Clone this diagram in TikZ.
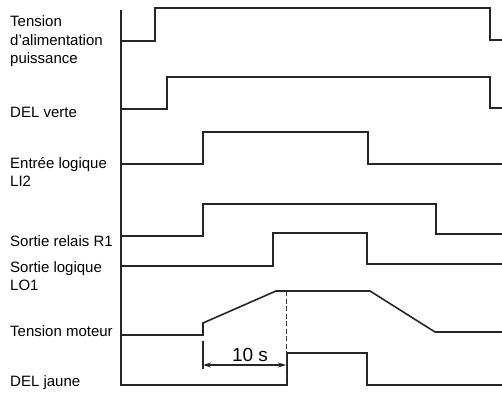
\documentclass[tikz,border=0pt]{standalone}
\usepackage{fontspec}
\setmainfont{Liberation Sans}
\usetikzlibrary{arrows.meta}
\begin{document}
\begin{tikzpicture}[x=1pt,y=-1pt,
  lab/.style={anchor=base west, inner sep=0pt, font=\fontsize{15}{17}\selectfont},
  sig/.style={line width=1.6pt, draw=black!85, line join=miter},
  axisline/.style={line width=1.1pt, draw=black!85},
  dashline/.style={line width=0.8pt, draw=black!80, dash pattern=on 5pt off 2.5pt},
  dimline/.style={line width=1.1pt, draw=black!85},
  dimtext/.style={anchor=base, inner sep=0pt, font=\fontsize{19}{22}\selectfont}]
\useasboundingbox (0,0) rectangle (502,393);
% labels
\node[lab] (l1a) at (10,27) {Tension};
\node[lab] (l1b) at (10,46) {d'alimentation};
\node[lab] (l1c) at (10,64) {puissance};
\node[lab] (l2) at (10,117) {DEL verte};
\node[lab] (l3a) at (10,168) {Entrée logique};
\node[lab] (l3b) at (10,186) {LI2};
\node[lab] (l4) at (10,246) {Sortie relais R1};
\node[lab] (l5a) at (10,272) {Sortie logique};
\node[lab] (l5b) at (10,290) {LO1};
\node[lab] (l6) at (10,336) {Tension moteur};
\node[lab] (l7) at (10,386) {DEL jaune};
% axis
\draw[axisline] (121,10) -- (121,386);
% signals
\draw[sig] (121,41) -- (155,41) -- (155,8) -- (490,8) -- (490,40) -- (502,40);
\draw[sig] (121,109) -- (167,109) -- (167,77) -- (490,77) -- (490,108) -- (502,108);
\draw[sig] (121,164) -- (203,164) -- (203,132) -- (368,132) -- (368,164) -- (502,164);
\draw[sig] (121,236) -- (203,236) -- (203,204) -- (436,204) -- (436,234) -- (502,234);
\draw[sig] (121,266) -- (273,266) -- (273,233) -- (367,233) -- (367,264) -- (502,264);
\draw[sig] (121,335) -- (203,335) -- (203,323) -- (276,291) -- (370,291) -- (435,332) -- (502,332);
\draw[sig] (121,385) -- (287,385) -- (287,353) -- (367,353) -- (367,385) -- (502,385);
% dimension
\coordinate (tickTop) at (203,341);
\coordinate (tickBot) at (203,369);
\coordinate (dashTop) at (286,291);
\coordinate (dashBot) at (286,385);
\coordinate (arrL) at (203,365);
\coordinate (arrR) at (286,365);
\draw[dimline] (tickTop) -- (tickBot);
\draw[dashline] (dashTop) -- (dashBot);
\draw[dimline, {Stealth[length=8pt,width=5pt]}-{Stealth[length=8pt,width=5pt]}] (arrL) -- (arrR);
\node[dimtext] (ten) at (250,361) {10 s};
\end{tikzpicture}
\end{document}
